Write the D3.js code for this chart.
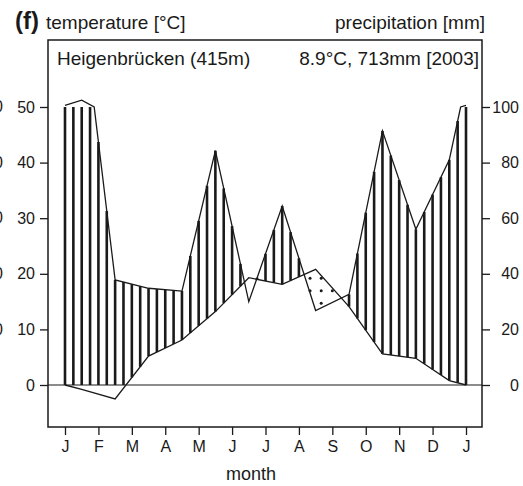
<!DOCTYPE html>
<html>
<head>
<meta charset="utf-8">
<script src="https://cdn.jsdelivr.net/npm/d3@7"></script>
<style>
  body { margin: 0; background: #fff; }
  text { font-family: "Liberation Sans", Arial, Helvetica, sans-serif; fill: #1a1a1a; }
</style>
</head>
<body>
<script>
// Heigenbrücken 2003, monthly values
var months = ["J", "F", "M", "A", "M", "J", "J", "A", "S", "O", "N", "D", "J"];
var temperature = [-0.8, -2.5, 5.2, 8.1, 13.2, 19.3, 18.1, 20.8, 14.1, 5.6, 4.8, 0.8];
var precipitation = [137, 37.8, 34.8, 33.8, 84.3, 30, 64.4, 26.8, 32.6, 91.4, 56, 81];
var tempTicks = [0, 10, 20, 30, 40, 50];
var precTicks = [0, 20, 40, 60, 80, 100];
var neighbourTicks = [20, 40, 60, 80, 100]; // cut-off axis of the panel on the left

var svgWidth = 523;
var svgHeight = 486;
var box = { left: 48, right: 482, top: 40, bottom: 427 };

var svg = d3.select("body")
  .append("svg")
  .attr("width", svgWidth)
  .attr("height", svgHeight);

var x = d3.scaleLinear().domain([0, 12]).range([65, 466]);
var y = d3.scaleLinear().domain([0, 50]).range([385, 107]);
var yP = d3.scaleLinear().domain([0, 100]).range([385, 107]);

// precipitation in temperature units (20 mm = 10 °C), shrunk above 100 mm
function precUnits(p) {
  return p <= 100 ? p / 2 : 50 + (p - 100) / 30;
}

// mid-month points, both ends get the mean of Dec and Jan
function series(v) {
  var ends = (v[0] + v[11]) / 2;
  var pts = [[0, ends]];
  v.forEach(function(d, i) { pts.push([i + 0.5, d]); });
  pts.push([12, ends]);
  return pts;
}
var tPts = series(temperature);
var pPts = series(precipitation);

function interp(pts, m) {
  for (var i = 1; i < pts.length; i++) {
    if (m <= pts[i][0]) {
      var a = pts[i - 1], b = pts[i];
      var t = (m - a[0]) / (b[0] - a[0]);
      return a[1] + t * (b[1] - a[1]);
    }
  }
  return pts[pts.length - 1][1];
}

// precipitation outline, with a break point where it crosses 100 mm
var pLine = [];
pPts.forEach(function(p, i) {
  if (i > 0) {
    var a = pPts[i - 1];
    if ((a[1] - 100) * (p[1] - 100) < 0) {
      var t = (100 - a[1]) / (p[1] - a[1]);
      pLine.push([a[0] + t * (p[0] - a[0]), 100]);
    }
  }
  pLine.push(p);
});

var ink = "#1a1a1a";

// humid period: vertical hatching every quarter month
var hatch = [];
d3.range(49).forEach(function(k) {
  var m = k / 4;
  var lo = Math.max(interp(tPts, m), 0);
  var hi = Math.min(precUnits(interp(pPts, m)), 50);
  if (hi > lo + 0.05) hatch.push({ m: m, lo: lo, hi: hi });
});
svg.append("g").selectAll("line")
  .data(hatch)
  .enter()
  .append("line")
  .attr("x1", d => x(d.m))
  .attr("x2", d => x(d.m))
  .attr("y1", d => y(d.lo))
  .attr("y2", d => y(d.hi))
  .attr("stroke", ink)
  .attr("stroke-width", 2.6);

// arid period: dots
var dots = [];
d3.range(37).forEach(function(k) {
  var m = k / 3;
  var tv = interp(tPts, m);
  var pv = precUnits(interp(pPts, m));
  d3.range(-4, 16).forEach(function(j) {
    var v = 14.7 + 2.25 * j;
    if (v < tv - 0.3 && v > pv + 0.3) dots.push({ m: m, v: v });
  });
});
svg.append("g").selectAll("circle")
  .data(dots)
  .enter()
  .append("circle")
  .attr("cx", d => x(d.m))
  .attr("cy", d => y(d.v))
  .attr("r", 1.5)
  .attr("fill", ink);

// zero line
svg.append("line")
  .attr("x1", box.left).attr("x2", box.right)
  .attr("y1", y(0)).attr("y2", y(0))
  .attr("stroke", ink).attr("stroke-width", 1.2);

// curves
var line = d3.line()
  .x(d => x(d[0]))
  .y(d => y(d[1]));

svg.append("path")
  .datum(tPts)
  .attr("d", line)
  .attr("fill", "none")
  .attr("stroke", ink)
  .attr("stroke-width", 1.3);

svg.append("path")
  .datum(pLine.map(d => [d[0], precUnits(d[1])]))
  .attr("d", line)
  .attr("fill", "none")
  .attr("stroke", ink)
  .attr("stroke-width", 1.3)
  .attr("stroke-linejoin", "miter");

// frame
svg.append("rect")
  .attr("x", box.left).attr("y", box.top)
  .attr("width", box.right - box.left)
  .attr("height", box.bottom - box.top)
  .attr("fill", "none")
  .attr("stroke", ink)
  .attr("stroke-width", 1.5);

// axes
var leftAxis = d3.axisLeft(y).tickValues(tempTicks).tickSize(8).tickPadding(5);
var gL = svg.append("g")
  .attr("transform", `translate(${box.left},0)`)
  .call(leftAxis);

var rightAxis = d3.axisRight(yP).tickValues(precTicks).tickSize(8).tickPadding(5);
var gR = svg.append("g")
  .attr("transform", `translate(${box.right},0)`)
  .call(rightAxis);
gR.selectAll("text").attr("x", 37).attr("text-anchor", "end");

var bottomAxis = d3.axisBottom(x)
  .tickValues(d3.range(13))
  .tickFormat(i => months[i])
  .tickSize(8)
  .tickPadding(6);
var gB = svg.append("g")
  .attr("transform", `translate(0,${box.bottom})`)
  .call(bottomAxis);

[gL, gR, gB].forEach(function(g) {
  g.select(".domain").remove();
  g.attr("font-size", 16);
  g.selectAll(".tick line").attr("stroke", ink).attr("stroke-width", 1.3);
});

// part of the neighbouring panel's axis, cut by the image edge
svg.append("g").selectAll("text")
  .data(neighbourTicks)
  .enter()
  .append("text")
  .attr("x", 3)
  .attr("y", d => yP(d))
  .attr("dy", "0.32em")
  .attr("text-anchor", "end")
  .attr("font-size", 16)
  .text(d => d);

// titles
svg.append("text").attr("x", 15).attr("y", 29)
  .attr("font-size", 24).attr("font-weight", "bold").text("(f)");
svg.append("text").attr("x", 46).attr("y", 29)
  .attr("font-size", 19).text("temperature [°C]");
svg.append("text").attr("x", 485).attr("y", 29)
  .attr("text-anchor", "end").attr("font-size", 19).text("precipitation [mm]");
svg.append("text").attr("x", 57).attr("y", 65)
  .attr("font-size", 19).text("Heigenbrücken (415m)");
svg.append("text").attr("x", 479).attr("y", 65)
  .attr("text-anchor", "end").attr("font-size", 19).text("8.9°C, 713mm [2003]");
svg.append("text").attr("x", 251).attr("y", 480)
  .attr("text-anchor", "middle").attr("font-size", 18).text("month");
</script>
</body>
</html>
